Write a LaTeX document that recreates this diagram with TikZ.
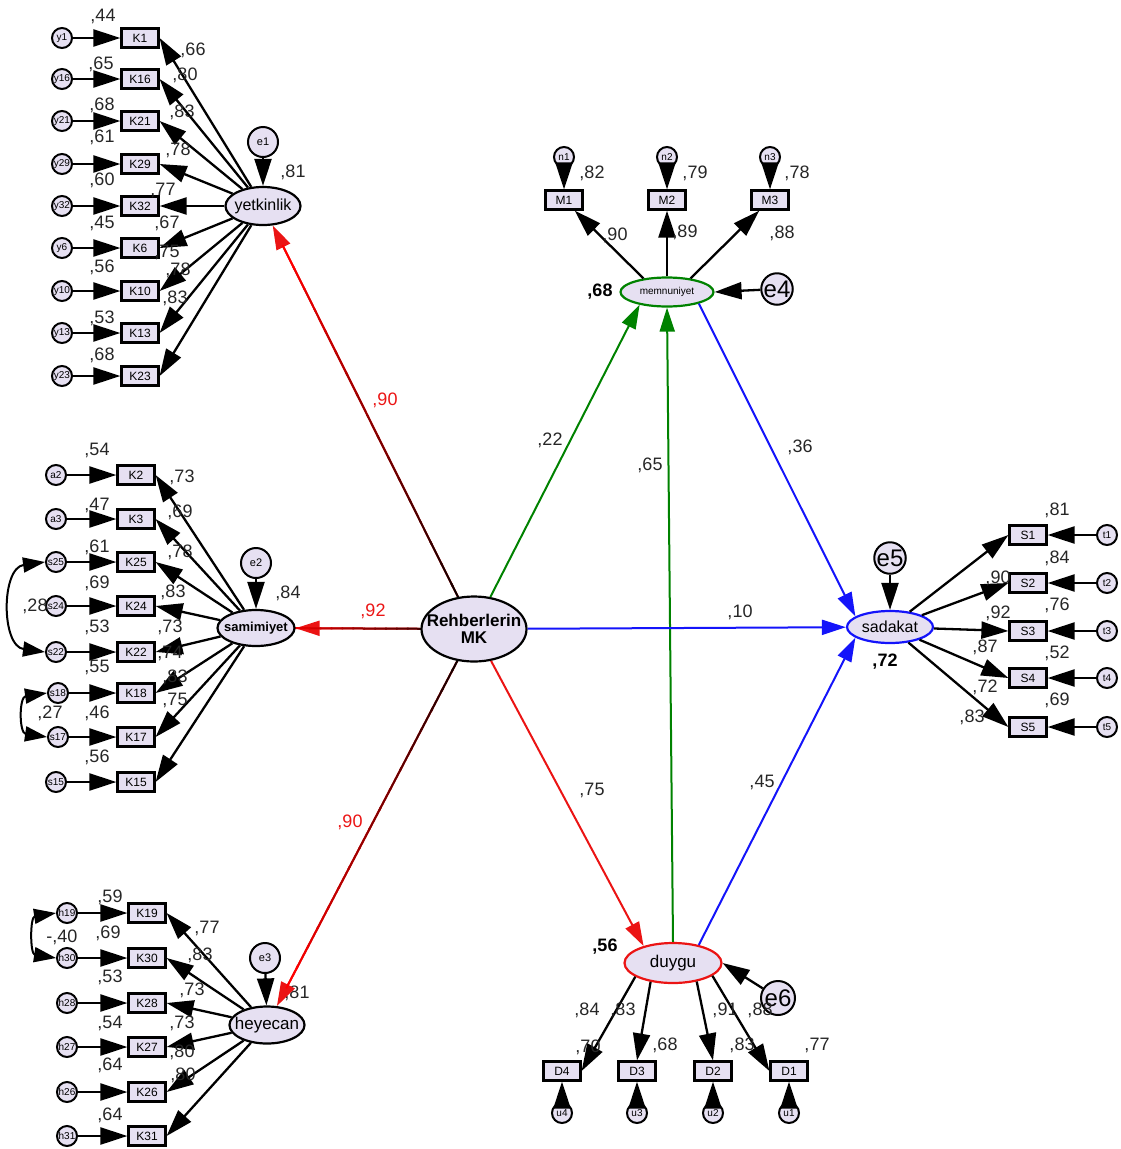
\documentclass[tikz,border=0pt]{standalone}
\usepackage{fontspec}
\setmainfont{Liberation Sans}
\usetikzlibrary{arrows.meta,shapes.geometric,calc}
\newcommand\fsz[1]{\fontsize{#1}{#1}\selectfont}
\definecolor{lav}{RGB}{230,224,242}
\definecolor{agreen}{RGB}{0,130,0}
\definecolor{ared}{RGB}{235,20,20}
\definecolor{ablue}{RGB}{20,20,250}
\pgfdeclarelayer{bg}\pgfsetlayers{bg,main}
\newcounter{labc}
\newcommand\putlab[4][num]{\stepcounter{labc}\node[#1] (lab\arabic{labc}) at (#2,#3) {#4};}
\begin{document}
\begin{tikzpicture}[x=1pt,y=-1pt,
 lat/.style={ellipse,draw,line width=2.2pt,fill=lav,inner sep=0pt},
 obs/.style={rectangle,draw,line width=2.2pt,fill=lav,minimum width=37pt,minimum height=19pt,inner sep=0pt,font=\fsz{12}},
 err/.style={circle,draw,line width=2pt,fill=lav,minimum size=20pt,inner sep=0pt,font=\fsz{10}},
 dst/.style={circle,draw,line width=2pt,fill=lav,minimum size=30pt,inner sep=0pt,font=\fsz{11}},
 num/.style={font=\fsz{18},inner sep=0pt,text=black!85},
 bnum/.style={font=\bfseries\fsz{18},inner sep=0pt},
 rnum/.style={font=\fsz{18},inner sep=0pt,text=ared},
 arr/.style={line width=2.3pt,-{Triangle[length=27pt,width=17pt]}},
 sarr/.style={line width=2pt,-{Triangle[length=24pt,width=15pt]}},
 cov/.style={line width=2pt,{Triangle[length=22pt,width=15pt]}-{Triangle[length=22pt,width=15pt]}},
]
\useasboundingbox (0,0) rectangle (1120,1149);

% latent variables
\node[lat,minimum width=75pt,minimum height=38pt,label={[font=\fsz{16}]center:yetkinlik}] (yet) at (263,206) {};
\node[lat,minimum width=77pt,minimum height=36pt,label={[font=\bfseries\fsz{13}]center:samimiyet}] (sam) at (256,628) {};
\node[lat,minimum width=75pt,minimum height=37pt,label={[font=\fsz{17}]center:heyecan}] (hey) at (267,1025) {};
\node[lat,minimum width=105pt,minimum height=65pt,label={[font=\bfseries\fsz{17},align=center]center:Rehberlerin\\MK}] (mk) at (474,629) {};
\node[lat,draw=agreen,minimum width=93pt,minimum height=29pt,label={[font=\fsz{10}]center:memnuniyet}] (mem) at (667,292) {};
\node[lat,draw=ablue,minimum width=86pt,minimum height=32pt,label={[font=\fsz{16}]center:sadakat}] (sad) at (890,627) {};
\node[lat,draw=ared,minimum width=97pt,minimum height=40pt,label={[font=\fsz{17}]center:duygu}] (duy) at (673,963) {};

% disturbances
\node[dst] (e1) at (263,142) {e1};
\node[dst] (e2) at (256,563) {e2};
\node[dst] (e3) at (265,958) {e3};
\node[circle,draw,line width=2pt,fill=lav,minimum size=28pt,inner sep=0pt,font=\fsz{24}] (e4) at (777,289) {e4};
\node[circle,draw,line width=2pt,fill=lav,minimum size=26pt,inner sep=0pt,font=\fsz{24}] (e5) at (890,558) {e5};
\node[circle,draw,line width=2pt,fill=lav,minimum size=34pt,inner sep=0pt,font=\fsz{24}] (e6) at (778,998) {e6};
\draw[arr] (e1) -- (yet);
\draw[arr] (e2) -- (sam);
\draw[arr] (e3) -- (hey);
\draw[arr] (e4) -- (mem.east);
\draw[arr] (e5) -- (sad);
\draw[arr] (e6) -- (duy.east);

% yetkinlik cluster
\foreach \y/\e/\k in {38/y1/K1,79/y16/K16,121/y21/K21,164/y29/K29,206/y32/K32,248/y6/K6,291/y10/K10,333/y13/K13,376/y23/K23}{
  \node[err] (\e) at (62,\y) {\e};
  \node[obs] (\k) at (140,\y) {\k};
  \draw[arr] (\e) -- (\k);
  \draw[arr] (yet) -- (\k.east);
}
% samimiyet cluster
\foreach \y/\x/\e/\k in {475/56/a2/K2,519/56/a3/K3,562/56/s25/K25,606/56/s24/K24,652/56/s22/K22,693/58/s18/K18,737/58/s17/K17,782/56/s15/K15}{
  \node[err] (\e) at (\x,\y) {\e};
  \node[obs] (\k) at (136,\y) {\k};
  \draw[arr] (\e) -- (\k);
  \draw[arr] (sam) -- (\k.east);
}
% heyecan cluster
\foreach \y/\e/\k in {913/h19/K19,958/h30/K30,1003/h28/K28,1047/h27/K27,1092/h26/K26,1136/h31/K31}{
  \node[err] (\e) at (67,\y) {\e};
  \node[obs] (\k) at (147,\y) {\k};
  \draw[arr] (\e) -- (\k);
  \draw[arr] (hey) -- (\k.east);
}
% covariances
\draw[cov] (s25.west) .. controls (1,568) and (1,646) .. (s22.west);
\draw[cov] (s18.west) .. controls (19,697) and (19,733) .. (s17.west);
\draw[cov] (h19.west) .. controls (30,917) and (30,954) .. (h30.west);

% memnuniyet indicators
\foreach \x/\e/\k in {564/n1/M1,667/n2/M2,770/n3/M3}{
  \node[err] (\e) at (\x,157) {\e};
  \node[obs] (\k) at (\x,200) {\k};
  \draw[arr] (\e) -- (\k);
}
\draw[arr] (mem.150) -- (M1);
\draw[arr] (mem) -- (M2);
\draw[arr] (mem.30) -- (M3);

% sadakat indicators
\foreach \y/\e/\k in {535/t1/S1,583/t2/S2,631/t3/S3,678/t4/S4,727/t5/S5}{
  \node[err] (\e) at (1107,\y) {\e};
  \node[obs] (\k) at (1028,\y) {\k};
  \draw[arr] (\e) -- (\k);
  \draw[arr] (sad) -- (\k.west);
}

% duygu indicators
\foreach \x/\e/\k in {562/u4/D4,637/u3/D3,713/u2/D2,789/u1/D1}{
  \node[err] (\e) at (\x,1113) {\e};
  \node[obs] (\k) at (\x,1071) {\k};
  \draw[arr] (\e) -- (\k);
}
\draw[arr] (duy.-160) -- (D4.east);
\draw[arr] (duy.-140) -- (D3.north);
\draw[arr] (duy.-38) -- (D2.north);
\draw[arr] (duy.-18) -- (D1.west);

% structural paths with gradient (black to red)
\begin{pgfonlayer}{bg}
\putlab{297}{993}{,81}
\foreach \tg in {yet,sam,hey}{
  \draw[sarr,ared] (mk) -- (\tg);
  \foreach \i in {0,...,17}{
    \pgfmathtruncatemacro\c{100*\i/17}
    \draw[line width=2pt,red!\c!black] ($(mk)!{\i/20}!(\tg)$) -- ($(mk)!{(\i+1.15)/20}!(\tg)$);
  }
}
\end{pgfonlayer}
\draw[sarr,agreen] (mk) -- (mem.205);
\draw[sarr,agreen] (duy.north) -- (mem.south);
\draw[sarr,ablue] (mem.-20) -- (sad.163);
\draw[sarr,ablue] (mk) -- (sad);
\draw[sarr,ablue] (duy.35) -- (sad.197);
\draw[sarr,ared] (mk) -- (duy.150);

% structural labels
\putlab[rnum]{385}{400}{,90}
\putlab[rnum]{373}{611}{,92}
\putlab[rnum]{350}{822}{,90}
\putlab{550}{440}{,22}
\putlab{650}{465}{,65}
\putlab{800}{447}{,36}
\putlab{740}{612}{,10}
\putlab{592}{790}{,75}
\putlab{762}{782}{,45}

% yetkinlik labels
\putlab{293}{172}{,81}
\putlab{103}{16}{,44}
\putlab{101}{64}{,65}
\putlab{102}{105}{,68}
\putlab{102}{137}{,61}
\putlab{102}{180}{,60}
\putlab{102}{223}{,45}
\putlab{102}{267}{,56}
\putlab{102}{318}{,53}
\putlab{102}{355}{,68}
\putlab{193}{50}{,66}
\putlab{185}{75}{,80}
\putlab{182}{112}{,83}
\putlab{178}{150}{,78}
\putlab{163}{190}{,77}
\putlab{167}{223}{,67}
\putlab{167}{252}{,75}
\putlab{178}{270}{,78}
\putlab{175}{298}{,83}

% samimiyet labels
\putlab{288}{593}{,84}
\putlab{97}{450}{,54}
\putlab{97}{505}{,47}
\putlab{97}{547}{,61}
\putlab{97}{583}{,69}
\putlab{97}{627}{,53}
\putlab{97}{667}{,55}
\putlab{97}{713}{,46}
\putlab{97}{757}{,56}
\putlab{182}{477}{,73}
\putlab{180}{512}{,69}
\putlab{180}{552}{,78}
\putlab{173}{592}{,83}
\putlab{170}{627}{,73}
\putlab{170}{653}{,74}
\putlab{175}{677}{,83}
\putlab{175}{700}{,75}
\putlab{35}{606}{,28}
\putlab{50}{713}{,27}
\putlab{62}{937}{-,40}

% heyecan labels
\putlab{110}{897}{,59}
\putlab{108}{933}{,69}
\putlab{110}{977}{,53}
\putlab{110}{1023}{,54}
\putlab{110}{1065}{,64}
\putlab{110}{1115}{,64}
\putlab{207}{928}{,77}
\putlab{200}{955}{,83}
\putlab{192}{990}{,73}
\putlab{182}{1023}{,73}
\putlab{182}{1052}{,80}
\putlab{183}{1075}{,80}

% memnuniyet labels
\putlab[bnum]{600}{292}{,68}
\putlab{592}{173}{,82}
\putlab{695}{173}{,79}
\putlab{797}{173}{,78}
\putlab{615}{235}{,90}
\putlab{685}{232}{,89}
\putlab{782}{233}{,88}

% sadakat labels
\putlab[bnum]{885}{662}{,72}
\putlab{1057}{510}{,81}
\putlab{1057}{558}{,84}
\putlab{1057}{605}{,76}
\putlab{1057}{653}{,52}
\putlab{1057}{700}{,69}
\putlab{998}{578}{,90}
\putlab{998}{613}{,92}
\putlab{985}{647}{,87}
\putlab{985}{687}{,72}
\putlab{972}{717}{,83}

% duygu labels
\putlab[bnum]{605}{947}{,56}
\putlab{587}{1010}{,84}
\putlab{623}{1010}{,83}
\putlab{725}{1010}{,91}
\putlab{760}{1010}{,88}
\putlab{588}{1047}{,70}
\putlab{665}{1045}{,68}
\putlab{742}{1045}{,83}
\putlab{817}{1045}{,77}
\end{tikzpicture}
\end{document}
